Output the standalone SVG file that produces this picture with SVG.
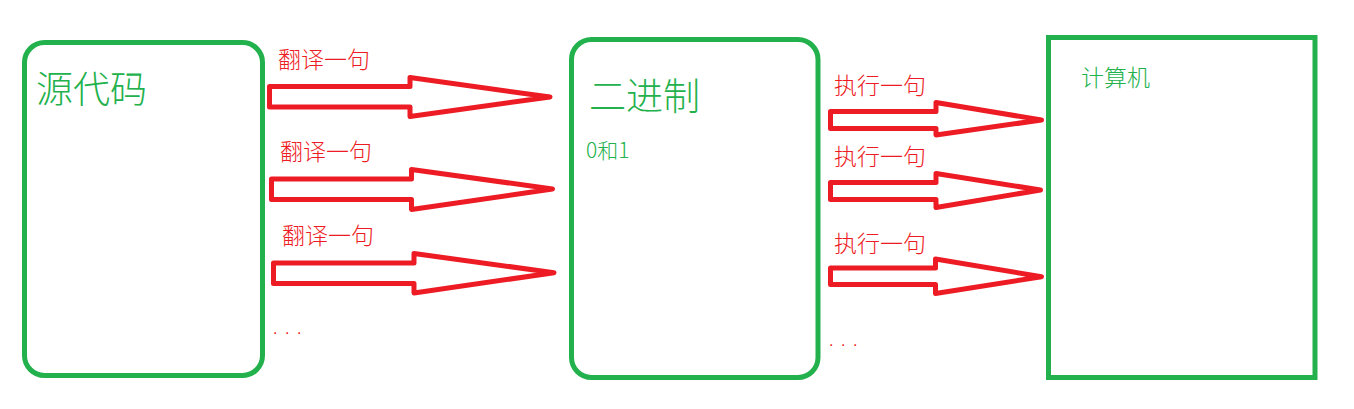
<svg xmlns="http://www.w3.org/2000/svg" width="1354" height="409" viewBox="0 0 1354 409">
<style>
.box{fill:none;stroke:#22b14c;stroke-width:5}
.arr{fill:none;stroke:#ed1c24;stroke-width:5;stroke-linejoin:round}
.lbl{fill:#ed1c24;font-family:"Noto Sans CJK SC",sans-serif;font-size:23px;font-weight:300}
.big{fill:#22b14c;font-family:"Noto Sans CJK SC",sans-serif;font-size:37px;font-weight:300}
.sm{fill:#22b14c;font-family:"Noto Sans CJK SC",sans-serif;font-size:21px;font-weight:300}
.dots{fill:#ed1c24;font-family:"Liberation Sans",sans-serif;font-size:16px;letter-spacing:7.6px}
</style>
<rect width="1354" height="409" fill="#fff"/>
<g id="source">
<rect class="box" x="24.5" y="42.5" width="238" height="333" rx="20"/>
<text class="big" x="36" y="103">源代码</text>
</g>
<g id="binary">
<rect class="box" x="571.5" y="39.5" width="246.5" height="338" rx="20"/>
<text class="big" x="589" y="110">二进制</text>
<text class="sm" x="586" y="158">0和1</text>
</g>
<g id="computer">
<rect class="box" x="1048.5" y="37.5" width="266.5" height="340"/>
<text class="sm" x="1081" y="86" style="font-size:23px">计算机</text>
</g>
<g id="connectors">
<polygon class="arr" points="269.5,86.5 410,86.5 410,77.5 550,97 410,116.5 410,107 269.5,107"/>
<polygon class="arr" points="271.5,179 411.5,179 411.5,169.5 552.5,189 411.5,209.5 411.5,199.5 271.5,199.5"/>
<polygon class="arr" points="273.5,263 414,263 414,253.5 554,272.7 414,293 414,283.5 273.5,283.5"/>
<polygon class="arr" points="830.5,111.5 936,111.5 936,102.5 1041.5,120 936,135 936,128.5 830.5,128.5"/>
<polygon class="arr" points="830.5,182.5 936,182.5 936,173.5 1040.5,190 936,207.5 936,199.5 830.5,199.5"/>
<polygon class="arr" points="830.5,268 935.5,268 935.5,259 1041.5,276.7 935.5,293.5 935.5,284.5 830.5,284.5"/>
<text class="lbl" x="278" y="68">翻译一句</text>
<text class="lbl" x="280" y="160">翻译一句</text>
<text class="lbl" x="282" y="244">翻译一句</text>
<text class="lbl" x="834" y="94">执行一句</text>
<text class="lbl" x="834" y="165">执行一句</text>
<text class="lbl" x="834" y="252">执行一句</text>
<text class="dots" x="273" y="334">...</text>
<text class="dots" x="829" y="346">...</text>
</g>
</svg>
